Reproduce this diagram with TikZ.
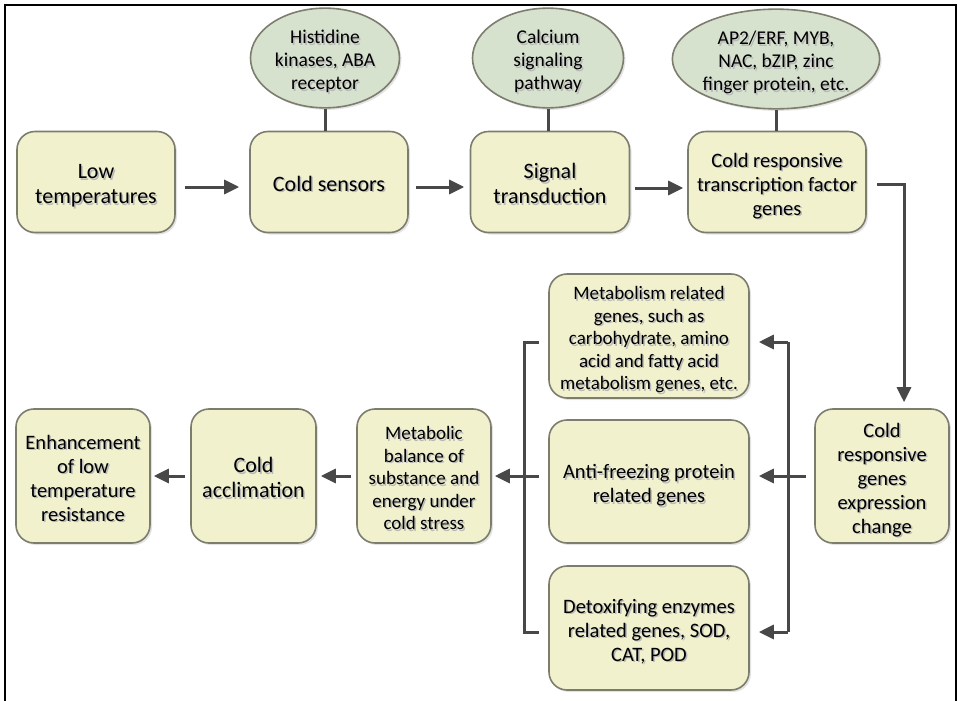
\documentclass[tikz,border=0pt]{standalone}
\usepackage{fontspec}
\setmainfont{Carlito}
\usetikzlibrary{arrows.meta,shapes.geometric,shadows,calc}

\definecolor{boxfill}{RGB}{241,241,206}
\definecolor{boxline}{RGB}{125,125,110}
\definecolor{ellfill}{RGB}{214,225,206}
\definecolor{linkcol}{RGB}{72,72,72}

% centred multi-line text with a soft grey copy behind it, set a little low
\newcommand\shtext[1]{%
  \raisebox{-5pt}[\height][\depth]{%
  \rlap{\kern1.5pt\raisebox{-1.5pt}{\color{black!28}\begin{tabular}{@{}c@{}}#1\end{tabular}}}%
  \begin{tabular}{@{}c@{}}#1\end{tabular}}}

\tikzset{
  stepbox/.style={rectangle, draw=boxline, line width=1.6pt, fill=boxfill,
    rounded corners=18pt, inner sep=0pt,
    drop shadow={shadow xshift=2pt, shadow yshift=-2pt, opacity=0.22}},
  oval/.style={ellipse, draw=boxline, line width=1.6pt, fill=ellfill, inner sep=0pt,
    drop shadow={shadow xshift=2pt, shadow yshift=-2pt, opacity=0.22}},
  fbig/.style={font=\fontsize{22}{25}\selectfont},
  fmid/.style={font=\fontsize{20.5}{24}\selectfont},
  fsmall/.style={font=\fontsize{19}{22.5}\selectfont},
  fell/.style={font=\fontsize{19.5}{23}\selectfont},
  link/.style={draw=linkcol, line width=3pt},
  arr/.style={link, -{Triangle[length=15pt,width=14pt]}},
  frame/.style={draw=black, line width=2pt}
}

\begin{document}
\begin{tikzpicture}[x=1pt,y=-1pt]
\useasboundingbox (0,0) rectangle (962,701);
\draw[frame] (5,701) -- (5,5) -- (956,5) -- (956,701);

% top row
\node[stepbox, fbig, minimum width=158pt, minimum height=101pt] (low) at (96,182) {\shtext{Low\\temperatures}};
\node[stepbox, fbig, minimum width=158pt, minimum height=101pt] (sens) at (329,182) {\shtext{Cold sensors}};
\node[stepbox, fbig, minimum width=159pt, minimum height=101pt] (sig) at (550,182) {\shtext{Signal\\transduction}};
\node[stepbox, fmid, minimum width=178pt, minimum height=101pt] (tf) at (777,182) {\shtext{Cold responsive\\transcription factor\\genes}};

% ovals above
\node[oval, fell, minimum width=149pt, minimum height=80pt] (hist) at (325,58) {\shtext{Histidine\\kinases, ABA\\receptor}};
\node[oval, fell, minimum width=151pt, minimum height=80pt] (calc) at (548,58) {\shtext{Calcium\\signaling\\pathway}};
\node[oval, fell, minimum width=205pt, minimum height=82pt] (ap2) at (776,59) {\shtext{AP2/ERF, MYB,\\NAC, bZIP, zinc\\finger protein, etc.}};

% lower part
\node[stepbox, fmid, minimum width=134pt, minimum height=134pt] (genes) at (882,476) {\shtext{Cold\\responsive\\genes\\expression\\change}};
\node[stepbox, fsmall, minimum width=200pt, minimum height=124pt] (met) at (649,336) {\shtext{Metabolism related\\genes, such as\\carbohydrate, amino\\acid and fatty acid\\metabolism genes, etc.}};
\node[stepbox, fmid, minimum width=200pt, minimum height=123pt] (anti) at (649,481.5) {\shtext{Anti-freezing protein\\related genes}};
\node[stepbox, fmid, minimum width=200pt, minimum height=124pt] (detox) at (649,628) {\shtext{Detoxifying enzymes\\related genes, SOD,\\CAT, POD}};
\node[stepbox, fsmall, minimum width=134pt, minimum height=134pt] (bal) at (424,476) {\shtext{Metabolic\\balance of\\substance and\\energy under\\cold stress}};
\node[stepbox, fbig, minimum width=125pt, minimum height=134pt] (accl) at (253.5,476) {\shtext{Cold\\acclimation}};
\node[stepbox, fmid, minimum width=134pt, minimum height=134pt] (enh) at (83,476) {\shtext{Enhancement\\of low\\temperature\\resistance}};

% ovals to boxes
\draw[link] (hist.south) -- (hist.south |- sens.north);
\draw[link] (calc.south) -- (calc.south |- sig.north);
\draw[link] (ap2.south) -- (ap2.south |- tf.north);

% top row arrows
\draw[arr, shorten <=9pt, shorten >=10pt] ([yshift=-5pt]low.east) -- ([yshift=-5pt]sens.west);
\draw[arr, shorten <=7pt, shorten >=5.5pt] ([yshift=-5pt]sens.east) -- ([yshift=-5pt]sig.west);
\draw[arr, shorten <=4.5pt, shorten >=4pt] ([yshift=-6pt]sig.east) -- ([yshift=-6pt]tf.west);

% down to the expression change box
\coordinate (turn) at (904,184);
\draw[arr, shorten >=6pt] ([xshift=10pt,yshift=-2pt]tf.east) -- (turn) -- (turn |- genes.north);

% right bracket
\coordinate (rtop) at (788,342);
\coordinate (rmid) at (788,476);
\coordinate (rbot) at (788,632);
\draw[link] (rtop) -- (rbot);
\draw[arr, shorten >=9pt] ([xshift=-8pt]genes.west) -- (anti.east |- rmid);
\draw[arr, shorten >=9pt] (rtop) -- (met.east |- rtop);
\draw[arr, shorten >=9pt] (rbot) -- (detox.east |- rbot);

% left bracket
\coordinate (ltop) at (524,342);
\coordinate (lmid) at (524,476);
\coordinate (lbot) at (524,632);
\draw[link, shorten <=9pt, shorten >=9pt] (met.west |- ltop) -- (ltop) -- (lbot) -- (detox.west |- lbot);
\draw[arr, shorten <=9pt, shorten >=3pt] (anti.west |- lmid) -- (bal.east |- lmid);

% bottom row arrows
\draw[arr, shorten <=5pt, shorten >=4pt] (bal.west) -- (accl.east);
\draw[arr, shorten <=5pt, shorten >=3pt] (accl.west) -- (enh.east);
\end{tikzpicture}
\end{document}
